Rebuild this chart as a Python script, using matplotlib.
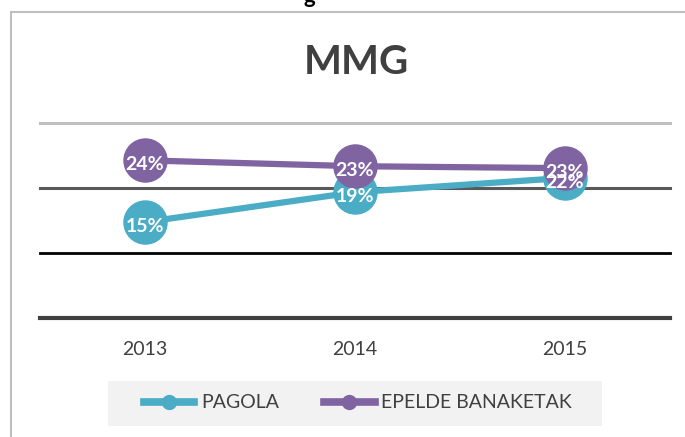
import matplotlib
matplotlib.use("Agg")
import matplotlib.pyplot as plt
from matplotlib.lines import Line2D
from matplotlib.patches import Rectangle

# ---- data ----
years = ["2013", "2014", "2015"]
pagola = [14.8, 19.4, 21.6]
epelde = [24.3, 23.4, 23.1]
series_names = ["PAGOLA", "EPELDE BANAKETAK"]
title = "MMG"
grid_values = [0, 10, 20, 30]

TEAL = "#4BACC6"
PURPLE = "#8064A2"
TXT = "#404040"

W, H = 685, 437
fig = plt.figure(figsize=(W / 100, H / 100), dpi=100)
fig.patch.set_facecolor("white")
plt.rcParams['font.family'] = ['Lato', 'DejaVu Sans']

def fx(px):
    return px / W

def fy(py):
    return 1 - py / H

# chart border (partly cut off)
fig.add_artist(Line2D([fx(11), fx(11)], [0, fy(12)], color="#BFBFBF", lw=1.5))
fig.add_artist(Line2D([fx(11), 1], [fy(12), fy(12)], color="#BFBFBF", lw=1.5))
# cut-off text from above
fig.text(fx(309), fy(3), "g", ha="center", va="baseline", fontsize=16,
         fontweight="bold", color="black")

ax = fig.add_axes([fx(40), fy(318.3), fx(670) - fx(40), fy(123.3) - fy(318.3)])
ax.set_facecolor("none")
x = list(range(len(years)))
ax.set_xlim(-0.5, len(years) - 0.5)
ax.set_ylim(0, 30)

grid_styles = {0: ("#404040", 3.0), 10: ("#000000", 2.0), 20: ("#595959", 2.2), 30: ("#BFBFBF", 2.2)}
for g in grid_values:
    c, lw = grid_styles[g]
    ax.axhline(g, color=c, lw=lw, zorder=1, clip_on=False)

for s in ax.spines.values():
    s.set_visible(False)
ax.set_yticks([])
ax.set_xticks(x)
ax.set_xticklabels(years)
ax.tick_params(axis="x", length=0, pad=16, labelsize=14, labelcolor=TXT)

ax.plot(x, pagola, color=TEAL, lw=4.5, marker="o", markersize=31,
        solid_capstyle="round", zorder=3, clip_on=False)
ax.plot(x, epelde, color=PURPLE, lw=4.5, marker="o", markersize=31,
        solid_capstyle="round", zorder=4, clip_on=False)

for vals in (pagola, epelde):
    for xi, v in zip(x, vals):
        ax.annotate(f"{round(v)}%", (xi, v), xytext=(0, -3), textcoords="offset points",
                    ha="center", va="center", color="white", fontsize=14,
                    fontweight="bold", zorder=6, annotation_clip=False)

fig.text(fx(356), fy(62.5), title, ha="center", va="center", fontsize=29,
         fontweight="bold", color=TXT)

# legend
fig.add_artist(Rectangle((fx(108), fy(426)), fx(602) - fx(108), fy(381) - fy(426),
                         transform=fig.transFigure, facecolor="#F2F2F2",
                         edgecolor="none", zorder=0))
handles = [Line2D([0], [0], color=TEAL, lw=5.5, marker="o", markersize=10),
           Line2D([0], [0], color=PURPLE, lw=5.5, marker="o", markersize=10)]
leg = fig.legend(handles, series_names, loc="center", bbox_to_anchor=(fx(358), fy(403)),
                 ncol=2, frameon=False, fontsize=14, handlelength=2.6,
                 handletextpad=0.35, columnspacing=2.3, borderpad=0)
for t in leg.get_texts():
    t.set_color(TXT)

fig.savefig("out.png", dpi=100, facecolor="white")
